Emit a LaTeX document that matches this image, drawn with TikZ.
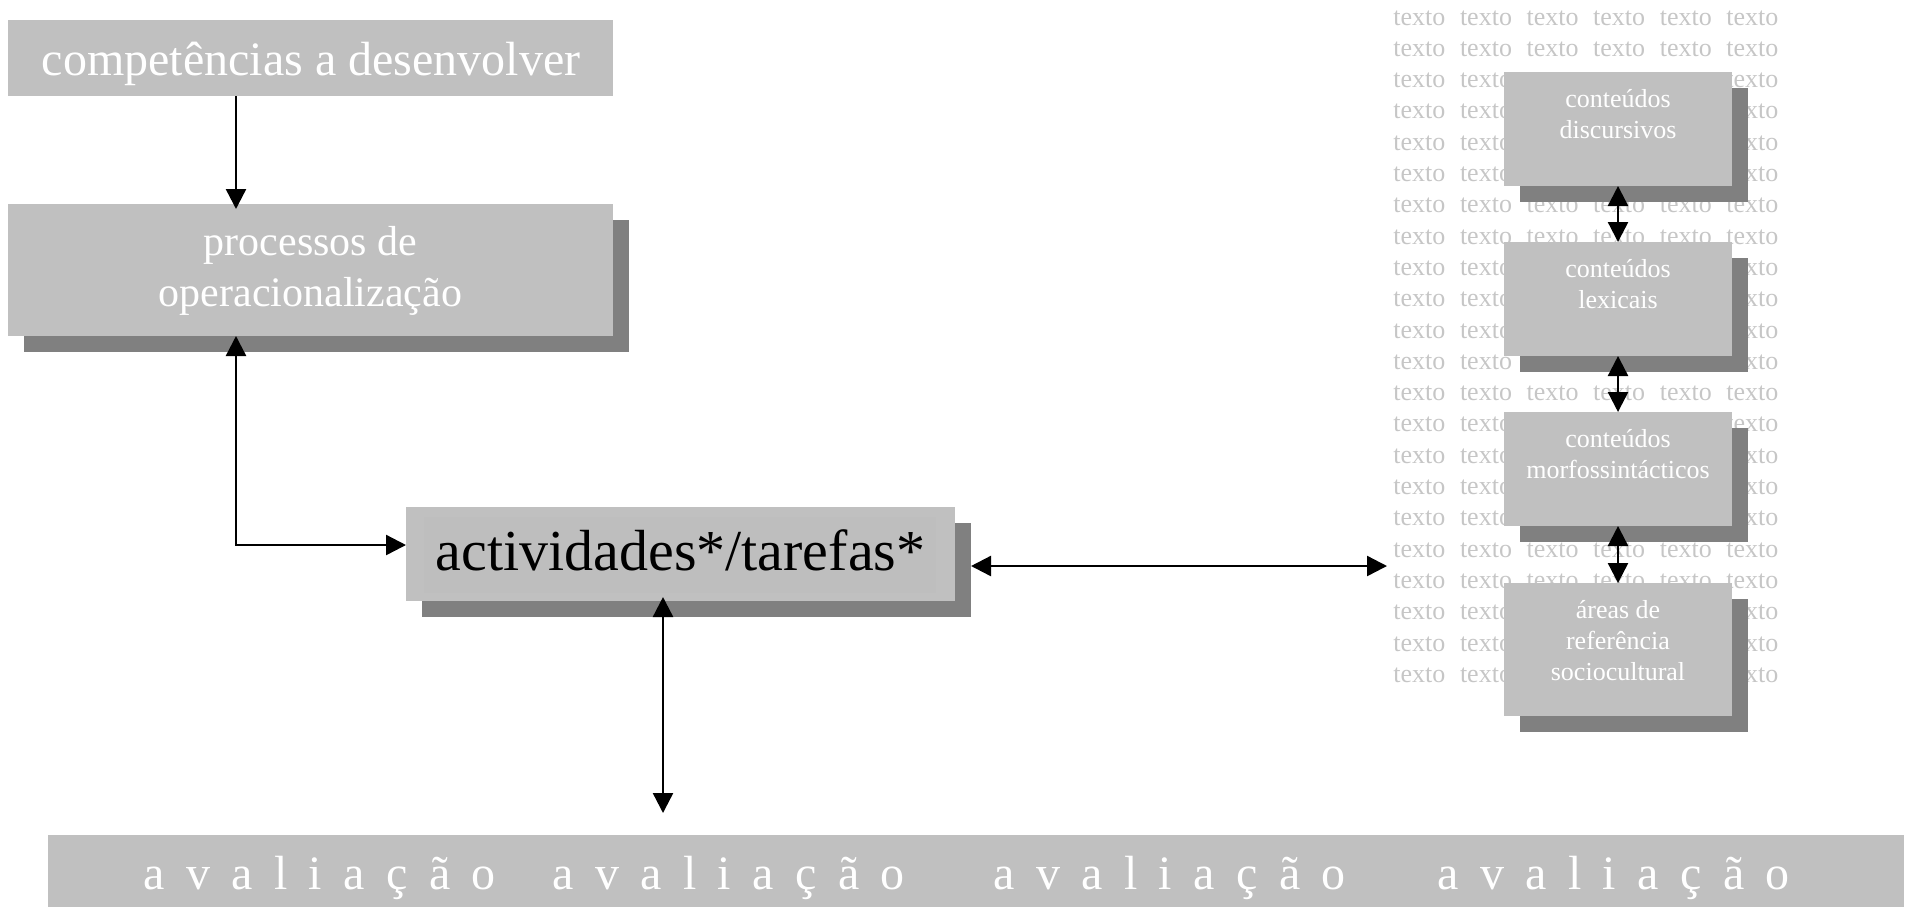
\documentclass[tikz,border=0pt]{standalone}
\usepackage{fontspec}
\setmainfont{Liberation Serif}
\usetikzlibrary{arrows.meta,shadows,calc}
\definecolor{boxgray}{RGB}{192,192,192}
\definecolor{shadowgray}{RGB}{128,128,128}
\definecolor{txtgray}{RGB}{198,198,198}
\definecolor{innergray}{RGB}{190,190,190}
\newcommand{\avk}{\kern10.7pt}
\newcommand{\avword}{a\avk v\avk a\avk l\avk i\avk a\avk ç\avk ã\avk o}
\begin{document}
\begin{tikzpicture}[x=0.5pt,y=-0.5pt,
  box/.style={rectangle, fill=boxgray, draw=none, inner sep=0pt, outer sep=0pt},
  shbox/.style={box, drop shadow={shadow xshift=8pt, shadow yshift=-8pt, fill=shadowgray, opacity=1}},
  smallbox/.style={shbox, minimum width=114pt, minimum height=57pt},
  conn/.style={line width=1.2pt, -{Triangle[length=10pt,width=10pt]}},
  bconn/.style={line width=1.2pt, {Triangle[length=10pt,width=10pt]}-{Triangle[length=10pt,width=10pt]}},
  gridtxt/.style={text=txtgray, font=\fontsize{13}{15}\selectfont, inner sep=0pt, anchor=base west},
  smalltxt/.style={text=white, font=\fontsize{13}{15.5}\selectfont, inner sep=0pt, anchor=base, align=center},
  avtxt/.style={text=white, font=\fontsize{24}{28}\selectfont, inner sep=0pt, anchor=base west}
]
\useasboundingbox (0,0) rectangle (1910,907);

% background text grid
\foreach \r in {0,...,21}{
  \foreach \c in {0,...,5}{
    \node[gridtxt] (tx-\r-\c) at ({1393+66.6*\c},{25+31.3*\r}) {texto};
  }
}

% left boxes
\node[box, minimum width=302.5pt, minimum height=38pt] (comp) at (310.5,58) {};
\node[anchor=base, inner sep=0pt, text=white, font=\fontsize{24}{28}\selectfont] (compt) at (311,75) {competências a desenvolver};

\node[shbox, minimum width=302.5pt, minimum height=66pt] (proc) at (310.5,270) {};
\node[anchor=base, inner sep=0pt, align=center, text=white, font=\fontsize{21}{25.5}\selectfont] (proct) at (310.5,306) {processos de\\operacionalização};

\node[shbox, minimum width=274.5pt, minimum height=47pt] (act) at (680.5,554) {};
\node[rectangle, fill=innergray, draw=none, inner sep=0pt, minimum width=256pt, minimum height=38pt] (actin) at (680,555) {};
\node[anchor=base, inner sep=0pt, text=black, font=\fontsize{29}{34}\selectfont] (actt) at (680.5,570) {actividades*/tarefas*};

% right boxes
\node[smallbox] (d1) at (1618,129) {};
\node[smallbox] (d2) at (1618,299) {};
\node[smallbox] (d3) at (1618,469) {};
\node[shbox, minimum width=114pt, minimum height=66.5pt] (d4) at (1618,649.5) {};
\node[smalltxt] (d1t) at (1618,138) {conteúdos\\discursivos};
\node[smalltxt] (d2t) at (1618,308) {conteúdos\\lexicais};
\node[smalltxt] (d3t) at (1618,478) {conteúdos\\morfossintácticos};
\node[smalltxt] (d4t) at (1618,680) {áreas de\\referência\\sociocultural};

% bottom bar
\node[box, minimum width=928pt, minimum height=36pt] (bar) at (976,871) {};
\node[avtxt] (av1) at (143,889) {\avword};
\node[avtxt] (av2) at (552,889) {\avword};
\node[avtxt] (av3) at (993,889) {\avword};
\node[avtxt] (av4) at (1437,889) {\avword};

% connectors
\coordinate (jT) at (236,209);
\coordinate (jL) at (236,545);
\coordinate (jB) at (663,813);
\coordinate (jR) at (1387,566);
\draw[conn] (comp.south -| jT) -- (jT);
\draw[bconn] (proc.south -| jL) |- (act.west |- jL);
\draw[bconn, shorten <=-2pt] (act.south -| jB) -- (jB);
\draw[bconn, shorten <=8pt] (act.east |- jR) -- (jR);
\draw[bconn] (d1.south) -- (d2.north);
\draw[bconn] (d2.south) -- (d3.north);
\draw[bconn] (d3.south) -- (d4.north);
\end{tikzpicture}
\end{document}
